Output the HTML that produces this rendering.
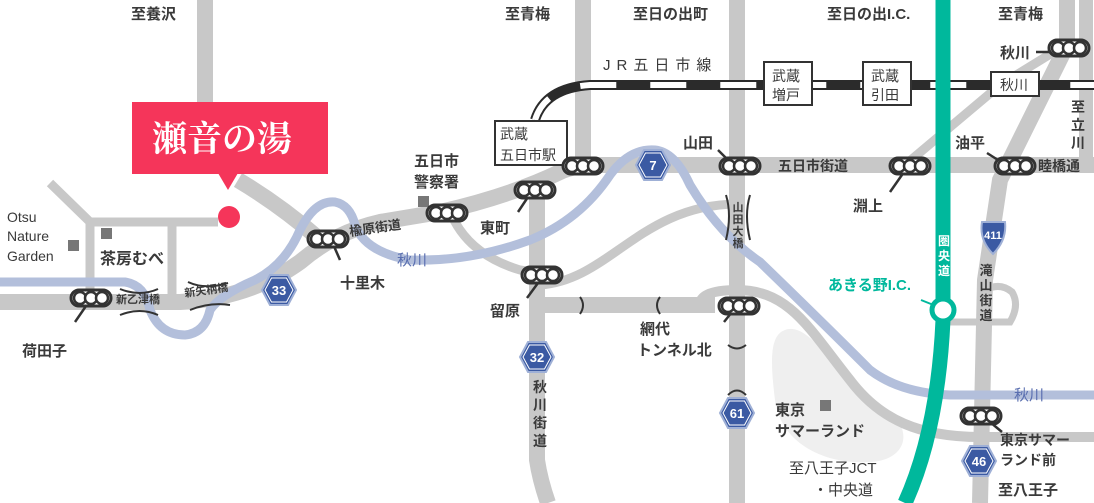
<!DOCTYPE html>
<html><head><meta charset="utf-8"><style>
html,body{margin:0;padding:0;background:#fff;}
svg{display:block;}
text{font-family:"Liberation Sans","Noto Sans CJK JP",sans-serif;fill:#3a3a3a;font-size:15px;font-weight:bold;}
</style></head><body>
<svg width="1094" height="503" viewBox="0 0 1094 503" xmlns="http://www.w3.org/2000/svg">
<defs>
<g id="sig"><rect x="-20" y="-8" width="40" height="16" rx="8" fill="#fff" stroke="#333" stroke-width="3"/><circle cx="-11" cy="0" r="6" fill="#fff" stroke="#333" stroke-width="2.5"/><circle cx="0" cy="0" r="6" fill="#fff" stroke="#333" stroke-width="2.5"/><circle cx="11" cy="0" r="6" fill="#fff" stroke="#333" stroke-width="2.5"/></g>
<g id="hex"><polygon points="-17,0 -9,-15 9,-15 17,0 9,15 -9,15" fill="#3b5aa3" stroke="#9fb0d6" stroke-width="2"/><polygon points="-14,0 -7.5,-12 7.5,-12 14,0 7.5,12 -7.5,12" fill="none" stroke="#fff" stroke-width="1"/></g>
</defs>
<path d="M785,330 C810,320 840,380 880,405 C915,425 910,460 870,462 C820,465 780,440 775,400 C770,360 770,335 785,330Z" fill="#efefef"/>
<g fill="none" stroke="#c8c8c8" stroke-linecap="butt">
<path d="M205,0 L205,108" stroke-width="16"/>
<path d="M238,180 Q280,205 318,238" stroke-width="16"/>
<path d="M0,302 L180,302 Q250,298 300,262 Q335,232 380,222 L440,212 Q510,196 560,172 Q575,165 600,165 L1094,165" stroke-width="16"/>
<path d="M50,183 L90,222 L218,222" stroke-width="9"/>
<path d="M90,222 L90,300" stroke-width="9"/>
<path d="M172,222 L172,300" stroke-width="9"/>
<path d="M583,0 L583,165" stroke-width="16"/>
<path d="M537,190 L537,460 Q540,480 548,503" stroke-width="16"/>
<path d="M737,0 L737,503" stroke-width="16"/>
<path d="M1067,0 L1067,45 L1000,180 L985,280 L980,503" stroke-width="16"/>
<path d="M905,165 L1000,85 L1065,45" stroke-width="9"/>
<path d="M1086,0 L1086,165" stroke-width="14"/>
<path d="M452,216 Q470,255 520,270 L540,273" stroke-width="9"/>
<path d="M540,285 C610,280 640,205 737,204" stroke-width="9"/>
<path d="M537,305 L715,305" stroke-width="16"/>
<path d="M700,305 Q700,290 737,290 C790,290 810,330 850,380 C880,420 920,437 980,437 L1094,437" stroke-width="10"/>
<path d="M950,322 L1010,322 Q1020,305 1012,292 Q1000,282 985,290" stroke-width="7"/>
</g>
<path d="M0,282 L125,282 Q145,285 150,310 Q160,335 185,335 Q205,333 210,310 Q220,295 255,280 Q285,265 300,230 Q315,200 335,202 Q350,205 355,225 Q365,252 410,260 Q470,262 530,240 Q580,220 610,175 Q630,148 655,150 Q675,152 690,185 Q720,235 760,262 Q820,320 870,370 Q900,393 950,395 L1094,395" fill="none" stroke="#b3bfdb" stroke-width="9"/>
<path d="M535,120 Q545,88 590,85 L1094,85" fill="none" stroke="#2b2b2b" stroke-width="10"/>
<path d="M535,120 Q545,88 590,85 L1094,85" fill="none" stroke="#fff" stroke-width="6" stroke-dasharray="36,34" stroke-dashoffset="10"/>
<path d="M943,0 L943,320 Q938,430 905,503" fill="none" stroke="#00b89c" stroke-width="15"/>
<line x1="921" y1="300" x2="936" y2="306" stroke="#00b89c" stroke-width="2"/>
<circle cx="943" cy="310" r="11" fill="#fff" stroke="#00b89c" stroke-width="5"/>
<g fill="#fff" stroke="#333" stroke-width="2">
<rect x="495" y="121" width="72" height="44"/>
<rect x="764" y="62" width="48" height="43"/>
<rect x="863" y="62" width="48" height="43"/>
<rect x="991" y="72" width="48" height="24"/>
</g>
<text x="500" y="139" style="font-size:14px;font-weight:normal">武蔵</text>
<text x="500" y="160" style="font-size:14px;font-weight:normal">五日市駅</text>
<text x="772" y="81" style="font-size:14px;font-weight:normal">武蔵</text>
<text x="772" y="100" style="font-size:14px;font-weight:normal">増戸</text>
<text x="871" y="81" style="font-size:14px;font-weight:normal">武蔵</text>
<text x="871" y="100" style="font-size:14px;font-weight:normal">引田</text>
<text x="1000" y="90" style="font-size:14px;font-weight:normal">秋川</text>
<rect x="132" y="102" width="196" height="72" fill="#f5355a"/>
<polygon points="218,173 238,173 228,190" fill="#f5355a"/>
<text x="152" y="151" style="fill:#fff;font-family:'Liberation Serif','Noto Serif CJK SC',serif;font-size:35px;font-weight:bold">瀬音の湯</text>
<circle cx="229" cy="217" r="11" fill="#f5355a"/>
<g fill="#777"><rect x="68" y="240" width="11" height="11"/><rect x="101" y="228" width="11" height="11"/><rect x="418" y="196" width="11" height="11"/><rect x="820" y="400" width="11" height="11"/></g>
<g fill="none" stroke="#333" stroke-width="2">
<path d="M120,289 Q140,297 158,289 M120,315 Q140,307 158,315"/>
<path d="M188,282 Q205,290 228,283 M190,310 Q210,302 230,305"/>
<path d="M726,195 Q732,215 726,240 M750,195 Q744,215 750,240"/>
<path d="M580,297 Q586,305 580,314 M660,297 Q654,305 660,314"/>
<path d="M728,345 Q737,352 746,345 M728,395 Q737,386 746,395"/>
</g>
<g stroke="#333" stroke-width="2.5">
<line x1="86" y1="306" x2="75" y2="322"/><line x1="333" y1="244" x2="340" y2="260"/><line x1="528" y1="197" x2="518" y2="212"/>
<line x1="538" y1="283" x2="527" y2="298"/><line x1="732" y1="312" x2="724" y2="322"/><line x1="718" y1="150" x2="728" y2="160"/>
<line x1="904" y1="172" x2="890" y2="192"/><line x1="987" y1="153" x2="998" y2="160"/><line x1="1050" y1="52" x2="1036" y2="52"/>
<line x1="990" y1="422" x2="1002" y2="432"/>
</g>
<use href="#sig" x="91" y="298"/><use href="#sig" x="328" y="239"/><use href="#sig" x="447" y="213"/><use href="#sig" x="535" y="190"/>
<use href="#sig" x="583" y="166"/><use href="#sig" x="542" y="275"/><use href="#sig" x="740" y="166"/><use href="#sig" x="739" y="306"/>
<use href="#sig" x="910" y="166"/><use href="#sig" x="1015" y="166"/><use href="#sig" x="1069" y="48"/><use href="#sig" x="981" y="416"/>
<use href="#hex" x="279" y="290"/><use href="#hex" x="653" y="165"/><use href="#hex" x="537" y="357"/><use href="#hex" x="737" y="413"/><use href="#hex" x="979" y="461"/>
<g text-anchor="middle">
<text x="279" y="295" style="fill:#fff;font-size:13px">33</text><text x="653" y="170" style="fill:#fff;font-size:13px">7</text>
<text x="537" y="362" style="fill:#fff;font-size:13px">32</text><text x="737" y="418" style="fill:#fff;font-size:13px">61</text><text x="979" y="466" style="fill:#fff;font-size:13px">46</text>
</g>
<path d="M982,222 L1005,222 Q1007,240 993,254 Q979,240 982,222Z" fill="#3b5aa3" stroke="#9fb0d6" stroke-width="2"/>
<text x="993" y="239" text-anchor="middle" style="fill:#fff;font-size:11px">411</text>
<g>
<text x="131" y="19">至養沢</text><text x="505" y="19">至青梅</text><text x="633" y="19">至日の出町</text><text x="827" y="19">至日の出I.C.</text><text x="998" y="19">至青梅</text>
<text x="603" y="70" style="letter-spacing:6px;font-weight:normal">JR五日市線</text>
<text x="7" y="222" style="font-weight:normal;font-size:14px">Otsu</text><text x="7" y="241" style="font-weight:normal;font-size:14px">Nature</text><text x="7" y="261" style="font-weight:normal;font-size:14px">Garden</text>
<text x="100" y="264" style="font-size:16px">茶房むべ</text>
<text x="22" y="356">荷田子</text><text x="340" y="288">十里木</text>
<text x="116" y="303" style="font-size:11px">新乙津橋</text>
<text x="185" y="297" style="font-size:11px" transform="rotate(-8 185 297)">新矢柄橋</text>
<text x="350" y="236" style="font-size:13px" transform="rotate(-8 350 236)">楡原街道</text>
<text x="397" y="265" style="fill:#5a6fb0;font-size:15px;font-weight:normal">秋川</text>
<text x="414" y="166">五日市</text><text x="414" y="187">警察署</text>
<text x="480" y="233">東町</text><text x="490" y="316">留原</text>
<text x="683" y="148">山田</text><text x="778" y="171" style="font-size:14px">五日市街道</text>
<text x="853" y="211">淵上</text><text x="955" y="148">油平</text><text x="1038" y="171" style="font-size:14px">睦橋通</text>
<text x="1000" y="58">秋川</text>
<text x="640" y="334">網代</text><text x="637" y="355">トンネル北</text>
<text x="775" y="415">東京</text><text x="775" y="436">サマーランド</text>
<text x="789" y="473" style="font-weight:normal">至八王子JCT</text><text x="813" y="495" style="font-weight:normal">・中央道</text>
<text x="1000" y="445" style="font-size:14px">東京サマー</text><text x="1000" y="465" style="font-size:14px">ランド前</text>
<text x="998" y="495">至八王子</text>
<text x="1014" y="400" style="fill:#5a6fb0;font-weight:normal">秋川</text>
<text x="828" y="290" style="fill:#00b89c;font-size:15px">あきる野I.C.</text>
</g>
<g text-anchor="middle">
<text x="1078" y="112" style="font-size:14px">至</text><text x="1078" y="130" style="font-size:14px">立</text><text x="1078" y="148" style="font-size:14px">川</text>
<text x="540" y="392" style="font-size:14px">秋</text><text x="540" y="410" style="font-size:14px">川</text><text x="540" y="428" style="font-size:14px">街</text><text x="540" y="446" style="font-size:14px">道</text>
<text x="738" y="211" style="font-size:11px">山</text><text x="738" y="223" style="font-size:11px">田</text><text x="738" y="235" style="font-size:11px">大</text><text x="738" y="247" style="font-size:11px">橋</text>
<text x="944" y="245" style="fill:#fff;font-size:12px">圏</text><text x="944" y="260" style="fill:#fff;font-size:12px">央</text><text x="944" y="275" style="fill:#fff;font-size:12px">道</text>
<text x="986" y="275" style="font-size:13px">滝</text><text x="986" y="290" style="font-size:13px">山</text><text x="986" y="305" style="font-size:13px">街</text><text x="986" y="320" style="font-size:13px">道</text>
</g>
</svg>
</body></html>
